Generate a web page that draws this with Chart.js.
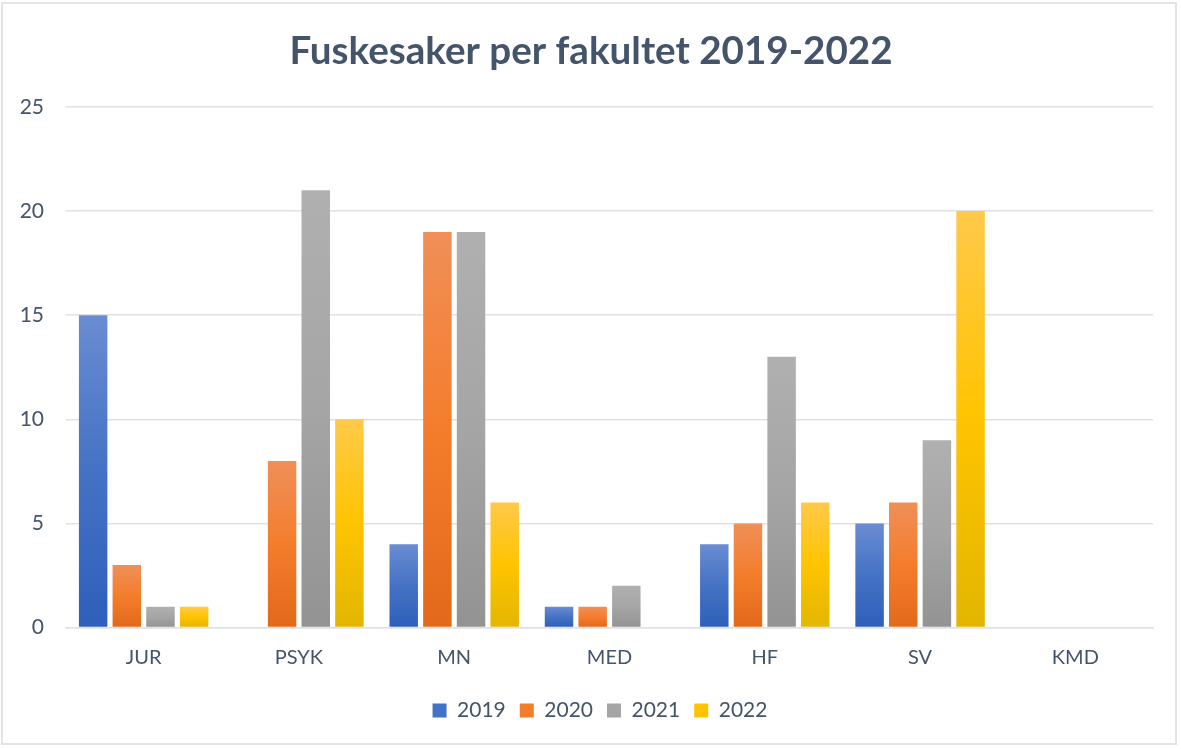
<!DOCTYPE html>
<html>
<head>
<meta charset="utf-8">
<script src="https://cdn.jsdelivr.net/npm/chart.js@4"></script>
<style>
  html, body { margin: 0; padding: 0; background: #fff; }
  #wrap { position: relative; width: 1181px; height: 749px; }
  #frame { position: absolute; left: 1px; top: 2px; width: 1176px; height: 743px; border: 2px solid #E1E5EA; box-sizing: border-box; pointer-events: none; }
  canvas { position: absolute; left: 0; top: 0; }
</style>
</head>
<body>
<div id="wrap">
  <canvas id="c" width="1181" height="749"></canvas>
  <div id="frame"></div>
</div>
<script>
const categories = ['JUR', 'PSYK', 'MN', 'MED', 'HF', 'SV', 'KMD'];
const years = ['2019', '2020', '2021', '2022'];
const v2019 = [15, 0, 4, 1, 4, 5, 0];
const v2020 = [3, 8, 19, 1, 5, 6, 0];
const v2021 = [1, 21, 19, 2, 13, 9, 0];
const v2022 = [1, 10, 6, 0, 6, 20, 0];
const yTicks = [0, 5, 10, 15, 20, 25];

const palettes = [
  ['#6A8CD2', '#4472C4', '#2E5FBA'],
  ['#F08F58', '#F47D2C', '#E2691A'],
  ['#B0B0B0', '#A5A5A5', '#939393'],
  ['#FFC94A', '#FFC400', '#E2B600']
];
const textColor = '#44546A';

function gradFill(stops) {
  return function (ctx) {
    const chart = ctx.chart;
    if (!chart.chartArea || ctx.type !== 'data' || !chart.scales.y) return stops[1];
    const y = chart.scales.y;
    const top = y.getPixelForValue(ctx.raw);
    const bot = y.getPixelForValue(0);
    if (Math.abs(bot - top) < 1) return stops[1];
    const g = chart.ctx.createLinearGradient(0, top, 0, bot);
    g.addColorStop(0, stops[0]);
    g.addColorStop(0.5, stops[1]);
    g.addColorStop(1, stops[2]);
    return g;
  };
}

const series = [v2019, v2020, v2021, v2022];
const datasets = series.map((vals, i) => ({
  label: years[i],
  data: vals,
  backgroundColor: gradFill(palettes[i]),
  borderWidth: 0,
  categoryPercentage: 0.867,
  barPercentage: 0.846
}));

const shiftBoxes = {
  id: 'shiftBoxes',
  afterLayout(chart) {
    const lg = chart.legend;
    if (lg) { lg.left += 18.5; lg.right += 18.5; }
    const t = chart.titleBlock;
    if (t) { t.left += 9.5; t.right += 9.5; }
  }
};

new Chart(document.getElementById('c'), {
  type: 'bar',
  data: { labels: categories, datasets },
  plugins: [shiftBoxes],
  options: {
    responsive: false,
    animation: false,
    layout: { padding: { left: 10, right: 28, top: 0, bottom: 18 } },
    plugins: {
      title: {
        display: true,
        text: 'Fuskesaker per fakultet 2019-2022',
        color: textColor,
        font: { family: 'Lato', size: 38.6, weight: 'bold', lineHeight: 1.2 },
        padding: { top: 28, bottom: 32.7 }
      },
      legend: {
        position: 'bottom',
        labels: {
          color: textColor,
          font: { family: 'Lato', size: 21 },
          boxWidth: 14,
          boxHeight: 14,
          padding: 14,
          generateLabels(chart) {
            return chart.data.datasets.map((d, i) => ({
              text: d.label,
              fillStyle: palettes[i][1],
              strokeStyle: palettes[i][1],
              lineWidth: 0,
              hidden: !chart.isDatasetVisible(i),
              datasetIndex: i,
              fontColor: textColor
            }));
          }
        }
      },
      tooltip: { enabled: false }
    },
    scales: {
      x: {
        grid: { display: false, drawTicks: false },
        border: { display: true, color: '#DEE2E8', width: 1.5 },
        ticks: { color: textColor, font: { family: 'Lato', size: 20 }, padding: 18 },
        afterFit(scale) { scale.height = 58.5; }
      },
      y: {
        min: 0,
        max: 25,
        afterBuildTicks(scale) { scale.ticks = yTicks.map(v => ({ value: v })); },
        grid: { color: '#DEE2E8', lineWidth: 1.5, drawTicks: false },
        border: { display: false },
        ticks: { color: textColor, font: { family: 'Lato', size: 21 }, padding: 22 },
        afterFit(scale) { scale.width = 56; }
      }
    }
  }
});
</script>
</body>
</html>
